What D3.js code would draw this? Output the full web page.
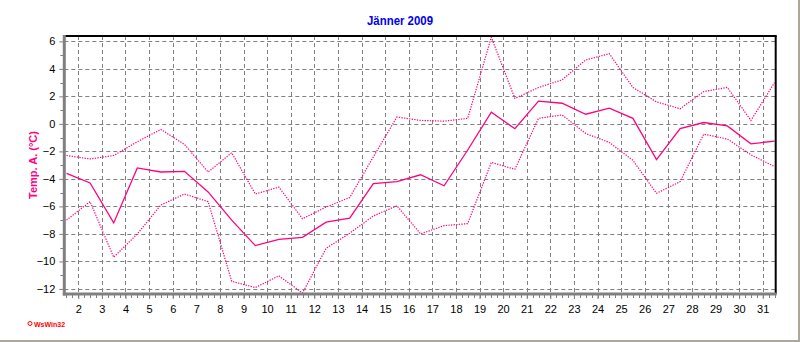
<!DOCTYPE html>
<html>
<head>
<meta charset="utf-8">
<script src="https://cdn.jsdelivr.net/npm/d3@7"></script>
<style>
  body { margin: 0; background: #fff; }
  text { font-family: "Liberation Sans", Arial, sans-serif; }
</style>
</head>
<body>
<svg id="chart" width="800" height="342"></svg>
<script>
// chart data
var title = 'Jänner 2009';
var yLabel = 'Temp. A. (°C)';
var days = [1, 2, 3, 4, 5, 6, 7, 8, 9, 10, 11, 12, 13, 14, 15, 16, 17, 18, 19, 20, 21, 22, 23, 24, 25, 26, 27, 28, 29, 30, 31];
var tempAvg = [-3.6, -4.3, -7.2, -3.2, -3.5, -3.45, -4.95, -7.0, -8.85, -8.4, -8.25, -7.15, -6.85, -4.35, -4.2, -3.7, -4.5, -1.9, 0.85, -0.35, 1.65, 1.5, 0.7, 1.15, 0.4, -2.6, -0.35, 0.1, -0.15, -1.45, -1.25];
var tempMax = [-2.3, -2.55, -2.3, -1.3, -0.4, -1.5, -3.5, -2.1, -5.1, -4.6, -6.9, -6.05, -5.35, -2.4, 0.5, 0.25, 0.2, 0.4, 6.3, 1.85, 2.65, 3.2, 4.65, 5.1, 2.65, 1.6, 1.1, 2.35, 2.65, 0.25, 3.0];
var tempMin = [-7.0, -5.65, -9.7, -8.0, -5.9, -5.1, -5.65, -11.45, -11.9, -11.05, -12.3, -9.05, -7.95, -6.7, -5.95, -8.0, -7.4, -7.25, -2.8, -3.3, 0.4, 0.65, -0.7, -1.35, -2.65, -5.05, -4.2, -0.75, -1.1, -2.25, -3.1];
var yTicks = [-12, -10, -8, -6, -4, -2, 0, 2, 4, 6];
var xTicks = [2, 3, 4, 5, 6, 7, 8, 9, 10, 11, 12, 13, 14, 15, 16, 17, 18, 19, 20, 21, 22, 23, 24, 25, 26, 27, 28, 29, 30, 31];

var pink = '#ff0080';
var gridColor = '#808080';

var svg = d3.select('#chart');

var plotL = 64.3, plotR = 775.7, plotT = 36, plotB = 294;

var x = d3.scaleLinear().domain([1.407, 31.55]).range([plotL, plotR]);
var y = d3.scaleLinear().domain([-12.37, 6.39]).range([plotB, plotT]);

function px(v) { return Math.round(v) + 0.5; }

// outer frame (only bottom and right edges visible)
svg.append('line')
  .attr('x1', 0).attr('x2', 800)
  .attr('y1', 341).attr('y2', 341)
  .attr('stroke', '#aca899').attr('stroke-width', 2);
svg.append('line')
  .attr('x1', 799).attr('x2', 799)
  .attr('y1', 0).attr('y2', 342)
  .attr('stroke', '#aca899').attr('stroke-width', 2);

// title
svg.append('text')
  .attr('x', 400).attr('y', 25)
  .attr('text-anchor', 'middle')
  .attr('font-size', 12)
  .attr('font-weight', 'bold')
  .attr('fill', '#0000f0')
  .attr('textLength', 66)
  .attr('lengthAdjust', 'spacingAndGlyphs')
  .text(title);

// y axis label
svg.append('text')
  .attr('transform', 'translate(37,165) rotate(-90)')
  .attr('text-anchor', 'middle')
  .attr('font-size', 11)
  .attr('font-weight', 'bold')
  .attr('fill', pink)
  .text(yLabel);

// grid
var grid = svg.append('g')
  .attr('stroke', gridColor)
  .attr('stroke-width', 1)
  .attr('stroke-dasharray', '4,3');

grid.selectAll('.hgrid')
  .data(yTicks)
  .enter()
  .append('line')
  .attr('class', 'hgrid')
  .attr('x1', plotL).attr('x2', plotR)
  .attr('y1', function (d) { return px(y(d)); })
  .attr('y2', function (d) { return px(y(d)); });

grid.selectAll('.vgrid')
  .data(xTicks)
  .enter()
  .append('line')
  .attr('class', 'vgrid')
  .attr('y1', plotT).attr('y2', plotB)
  .attr('x1', function (d) { return px(x(d)); })
  .attr('x2', function (d) { return px(x(d)); });

// series, each day's value sits in the middle of its day
function series(values) {
  return d3.line()
    .x(function (d, i) { return x(days[i] + 0.5); })
    .y(function (d) { return y(d); })(values);
}

svg.append('path')
  .attr('d', series(tempMax))
  .attr('fill', 'none')
  .attr('stroke', pink)
  .attr('stroke-width', 1.2)
  .attr('stroke-dasharray', '1.3,1.3');

svg.append('path')
  .attr('d', series(tempMin))
  .attr('fill', 'none')
  .attr('stroke', pink)
  .attr('stroke-width', 1.2)
  .attr('stroke-dasharray', '1.3,1.3');

svg.append('path')
  .attr('d', series(tempAvg))
  .attr('fill', 'none')
  .attr('stroke', pink)
  .attr('stroke-width', 1.3);

// plot frame: black top/right, grey thick left/bottom
svg.append('line')
  .attr('x1', plotL).attr('x2', plotR + 1)
  .attr('y1', plotT).attr('y2', plotT)
  .attr('stroke', '#000').attr('stroke-width', 2);
svg.append('line')
  .attr('x1', plotR).attr('x2', plotR)
  .attr('y1', plotT).attr('y2', plotB)
  .attr('stroke', '#000').attr('stroke-width', 2);

// y axis
var yAxis = svg.append('g')
  .attr('transform', 'translate(' + (plotL - 1) + ',0)')
  .call(d3.axisLeft(y).tickValues(yTicks).tickSize(4).tickPadding(4));
yAxis.select('.domain').remove();
yAxis.selectAll('line').attr('stroke', gridColor);
yAxis.selectAll('text')
  .attr('font-size', 11)
  .attr('font-family', '"Liberation Sans", Arial, sans-serif')
  .attr('fill', '#000');

var yMinor = d3.range(-11, 7, 2);
svg.append('g').selectAll('line')
  .data(yMinor)
  .enter()
  .append('line')
  .attr('x1', plotL - 4).attr('x2', plotL)
  .attr('y1', function (d) { return px(y(d)); })
  .attr('y2', function (d) { return px(y(d)); })
  .attr('stroke', gridColor);

svg.append('line')
  .attr('x1', plotL).attr('x2', plotL)
  .attr('y1', plotT - 1).attr('y2', plotB + 1.5)
  .attr('stroke', gridColor).attr('stroke-width', 3);

// x axis
var xMinor = d3.range(Math.ceil(x.domain()[0] * 4) / 4, x.domain()[1], 0.25);
svg.append('g').selectAll('line')
  .data(xMinor)
  .enter()
  .append('line')
  .attr('x1', function (d) { return px(x(d)); })
  .attr('x2', function (d) { return px(x(d)); })
  .attr('y1', plotB).attr('y2', plotB + 4)
  .attr('stroke', gridColor);

var xAxis = svg.append('g')
  .attr('transform', 'translate(0,' + (plotB + 1) + ')')
  .call(d3.axisBottom(x).tickValues(xTicks).tickFormat(d3.format('d')).tickSize(4).tickPadding(6));
xAxis.select('.domain').remove();
xAxis.selectAll('line').attr('stroke', gridColor);
xAxis.selectAll('text')
  .attr('font-size', 11)
  .attr('font-family', '"Liberation Sans", Arial, sans-serif')
  .attr('fill', '#000');

svg.append('line')
  .attr('x1', plotL - 1.5).attr('x2', plotR + 1)
  .attr('y1', plotB).attr('y2', plotB)
  .attr('stroke', gridColor).attr('stroke-width', 3);

// program logo
svg.append('circle')
  .attr('cx', 30).attr('cy', 323.5).attr('r', 2)
  .attr('fill', 'none').attr('stroke', '#ff0000').attr('stroke-width', 1);
svg.append('text')
  .attr('x', 34).attr('y', 326.5)
  .attr('font-size', 7)
  .attr('font-weight', 'bold')
  .attr('fill', '#ff0000')
  .text('WsWin32');
</script>
</body>
</html>
